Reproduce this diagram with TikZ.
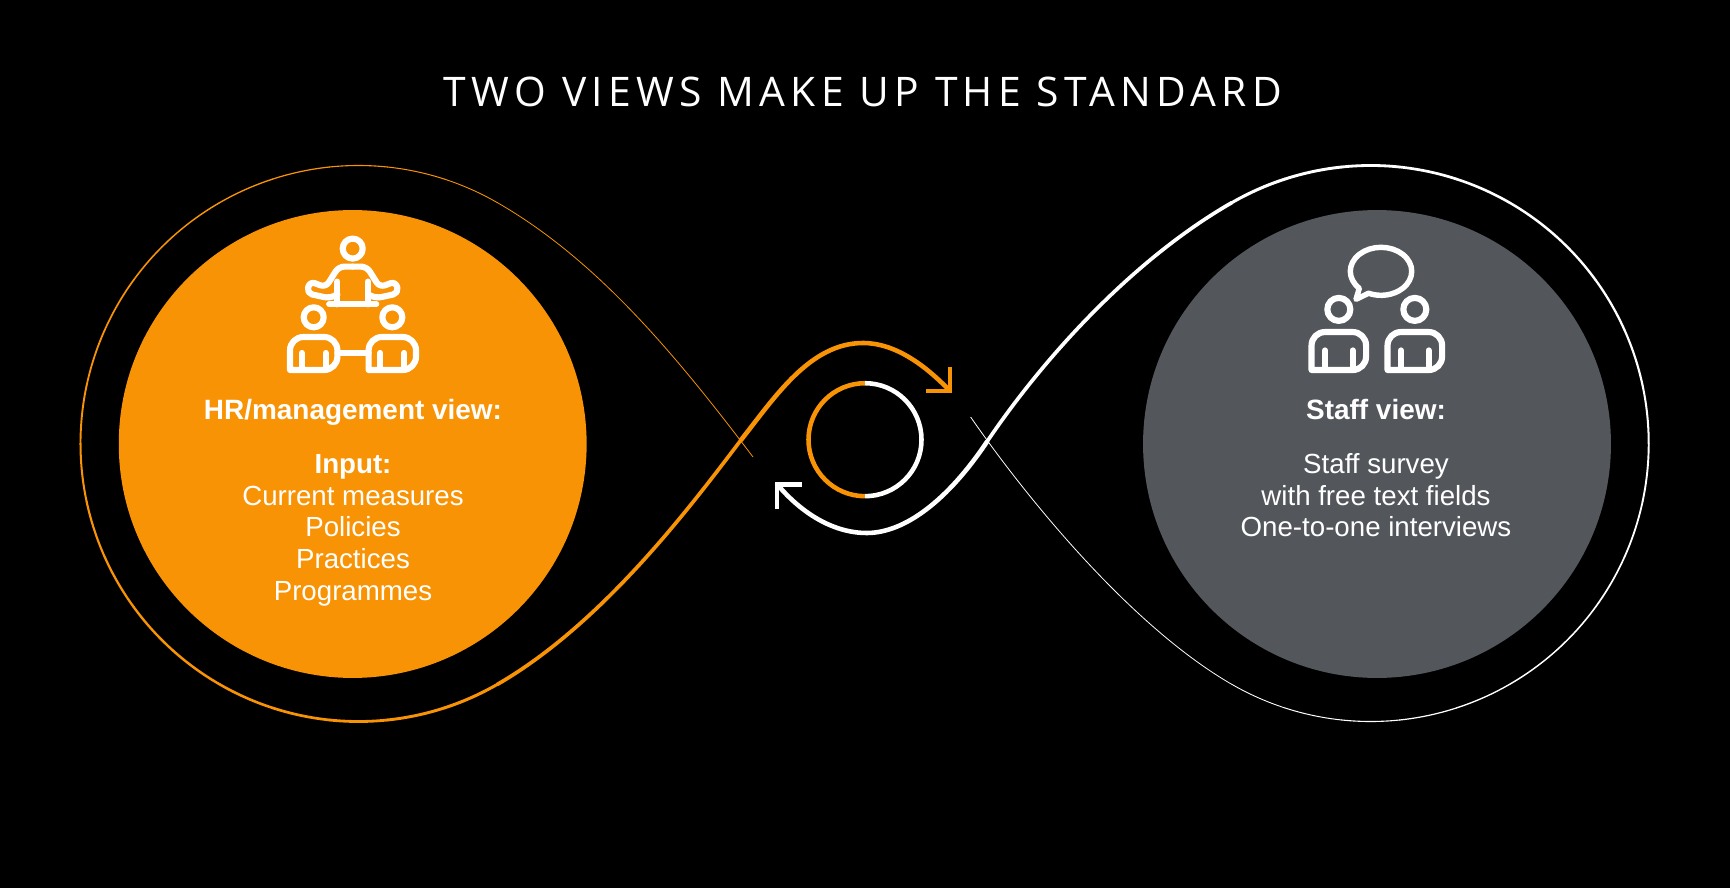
\documentclass[tikz,border=0pt]{standalone}
\usepackage{xcolor}
\usepackage{fontspec}
\setmainfont{Liberation Sans}
\newfontfamily\titlefont[LetterSpace=13]{Open Sans}
\usepackage{tikz}
\definecolor{hrorange}{RGB}{248,147,5}
\definecolor{staffgray}{RGB}{83,87,92}
\tikzset{
    viewdisc/.style={circle, minimum size=266.3pt, inner sep=0pt},
    viewhead/.style={text=white, anchor=base, inner sep=0pt, font=\fontsize{15.9}{18}\selectfont\bfseries},
    viewtext/.style={text=white, anchor=base, align=center, inner sep=0pt, font=\fontsize{15.75}{18}\selectfont},
    iconline/.style={draw=white, line width=3.5pt, line cap=round, line join=round},
    headtip/.style={line width=2.6pt, line join=miter, line cap=butt},
    person/.pic={
        \draw[iconline] (0,-52.7) circle [radius=10];
        \draw[iconline] (-23.7,0) [rounded corners=7.6pt] -- (-23.7,-33) -- (23.7,-33) -- (23.7,0) [sharp corners] -- cycle;
        \draw[iconline] (-12,0) -- (-12,-17);
        \draw[iconline] (12,0) -- (12,-17);
    }
}
\begin{document}
\begin{tikzpicture}[x=0.02cm, y=-0.02cm]
    \fill[black] (0,0) rectangle (1730,888);
    \useasboundingbox (0,0) rectangle (1730,888);

    \node (maintitle) at (863,106.7) [anchor=base, text=white, inner sep=0pt, font=\titlefont\fontsize{23.2}{28}\selectfont] {TWO VIEWS MAKE UP THE STANDARD};

    \node[viewdisc, fill=hrorange] (hrdisc) at (352.7,444) {};
    \node[viewdisc, fill=staffgray] (staffdisc) at (1377,444) {};

    \node[viewhead] (hrhead) at (353,419) {HR/management view:};
    \node[viewtext] (hrlist) at (353,600) {{\bfseries Input:}\\Current measures\\Policies\\Practices\\Programmes};
    \node[viewhead] (staffhead) at (1376,419) {Staff view:};
    \node[viewtext] (stafflist) at (1376,536.7) {Staff survey\\with free text fields\\One-to-one interviews};

    \coordinate (oCenter) at (358.5,443.5);
    \coordinate (oStart) at (753,457);
    \coordinate (oJoinT) at (497.5,202.7);
    \coordinate (oJoinB) at (497.5,684.3);
    \coordinate (oCross) at (741,440);
    \coordinate (oPeak) at (863,343);
    \coordinate (oTip) at (949.8,390.8);
    \coordinate (wCenter) at (1370.7,443.5);
    \coordinate (wStart) at (970.6,417);
    \coordinate (wJoinB) at (1231.7,684.3);
    \coordinate (wJoinT) at (1231.7,202.7);
    \coordinate (wCross) at (987,441.7);
    \coordinate (wLow) at (866.7,533);
    \coordinate (wTip) at (777.2,484.3);
    \coordinate (ringC) at (865,439.7);

    \draw[hrorange, line width=0.45pt] (oStart) .. controls (675,354) and (597,260) .. (oJoinT);
    \foreach \a [evaluate=\a as \w using {0.5+1.3*(300-\a)/240}] in {300,288,...,72}
        \draw[hrorange, line width=\w pt, line cap=round] (oCenter) ++(\a:278) arc [start angle=\a, delta angle=-12, radius=278];
    \draw[hrorange, line width=2.1pt, line cap=round] (oJoinB) .. controls (601.4,624.3) and (688,510) .. (oCross);
    \draw[hrorange, line width=2.6pt, line cap=round] (oCross) .. controls (775,397) and (810,343) .. (oPeak) .. controls (895,343) and (925,365) .. (oTip);
    \draw[hrorange, headtip] (949.8,366.7) -- (oTip) -- (925.7,390.8);

    \draw[white, line width=0.45pt] (wStart) .. controls (1028,500) and (1132,626.8) .. (wJoinB);
    \foreach \a [evaluate=\a as \w using {0.5+1.3*(120-\a)/240}] in {120,108,...,-108}
        \draw[white, line width=\w pt, line cap=round] (wCenter) ++(\a:278) arc [start angle=\a, delta angle=-12, radius=278];
    \draw[white, line width=2.1pt, line cap=round] (wJoinT) .. controls (1132,260) and (1043,358.7) .. (wCross);
    \draw[white, line width=2.6pt, line cap=round] (wCross) .. controls (948,500) and (905,533) .. (wLow) .. controls (835,533) and (803,515) .. (wTip);
    \draw[white, headtip] (777.2,509) -- (wTip) -- (801.7,484.3);

    \draw[white, line width=2.6pt] (ringC) ++(0,-56.5) arc [start angle=-90, delta angle=180, radius=56.5];
    \draw[hrorange, line width=2.6pt] (ringC) ++(0,-56.5) arc [start angle=-90, delta angle=-180, radius=56.5];

    \pic at (313.7,370) {person};
    \pic at (392.3,370) {person};
    \draw[iconline] (337.4,352.7) -- (368.6,352.7);
    \begin{scope}[shift={(352.7,304.3)}]
        \draw[iconline] (0,-55.7) circle [radius=10];
        \draw[iconline] (-23.5,0) -- (23.5,0);
        \foreach \s in {-1,1} {
            \draw[iconline] (\s*15.3,-22.7) -- (\s*15.3,0);
            \draw[iconline, rounded corners=3.2pt] (0,-37.7) -- (\s*14,-37.7) -- (\s*27,-17) -- (\s*43,-23) -- (\s*46,-11) -- (\s*23,-6) -- (\s*15.3,-10);
        }
    \end{scope}

    \pic[scale=1.15] at (1338.8,370) {person};
    \pic[scale=1.15] at (1414.8,370) {person};
    \draw[iconline, line width=3.1pt] (1359.3,288.3) arc [start angle=135, end angle=474, x radius=30.7, y radius=24] -- (1356,299.3) -- cycle;
\end{tikzpicture}
\end{document}
